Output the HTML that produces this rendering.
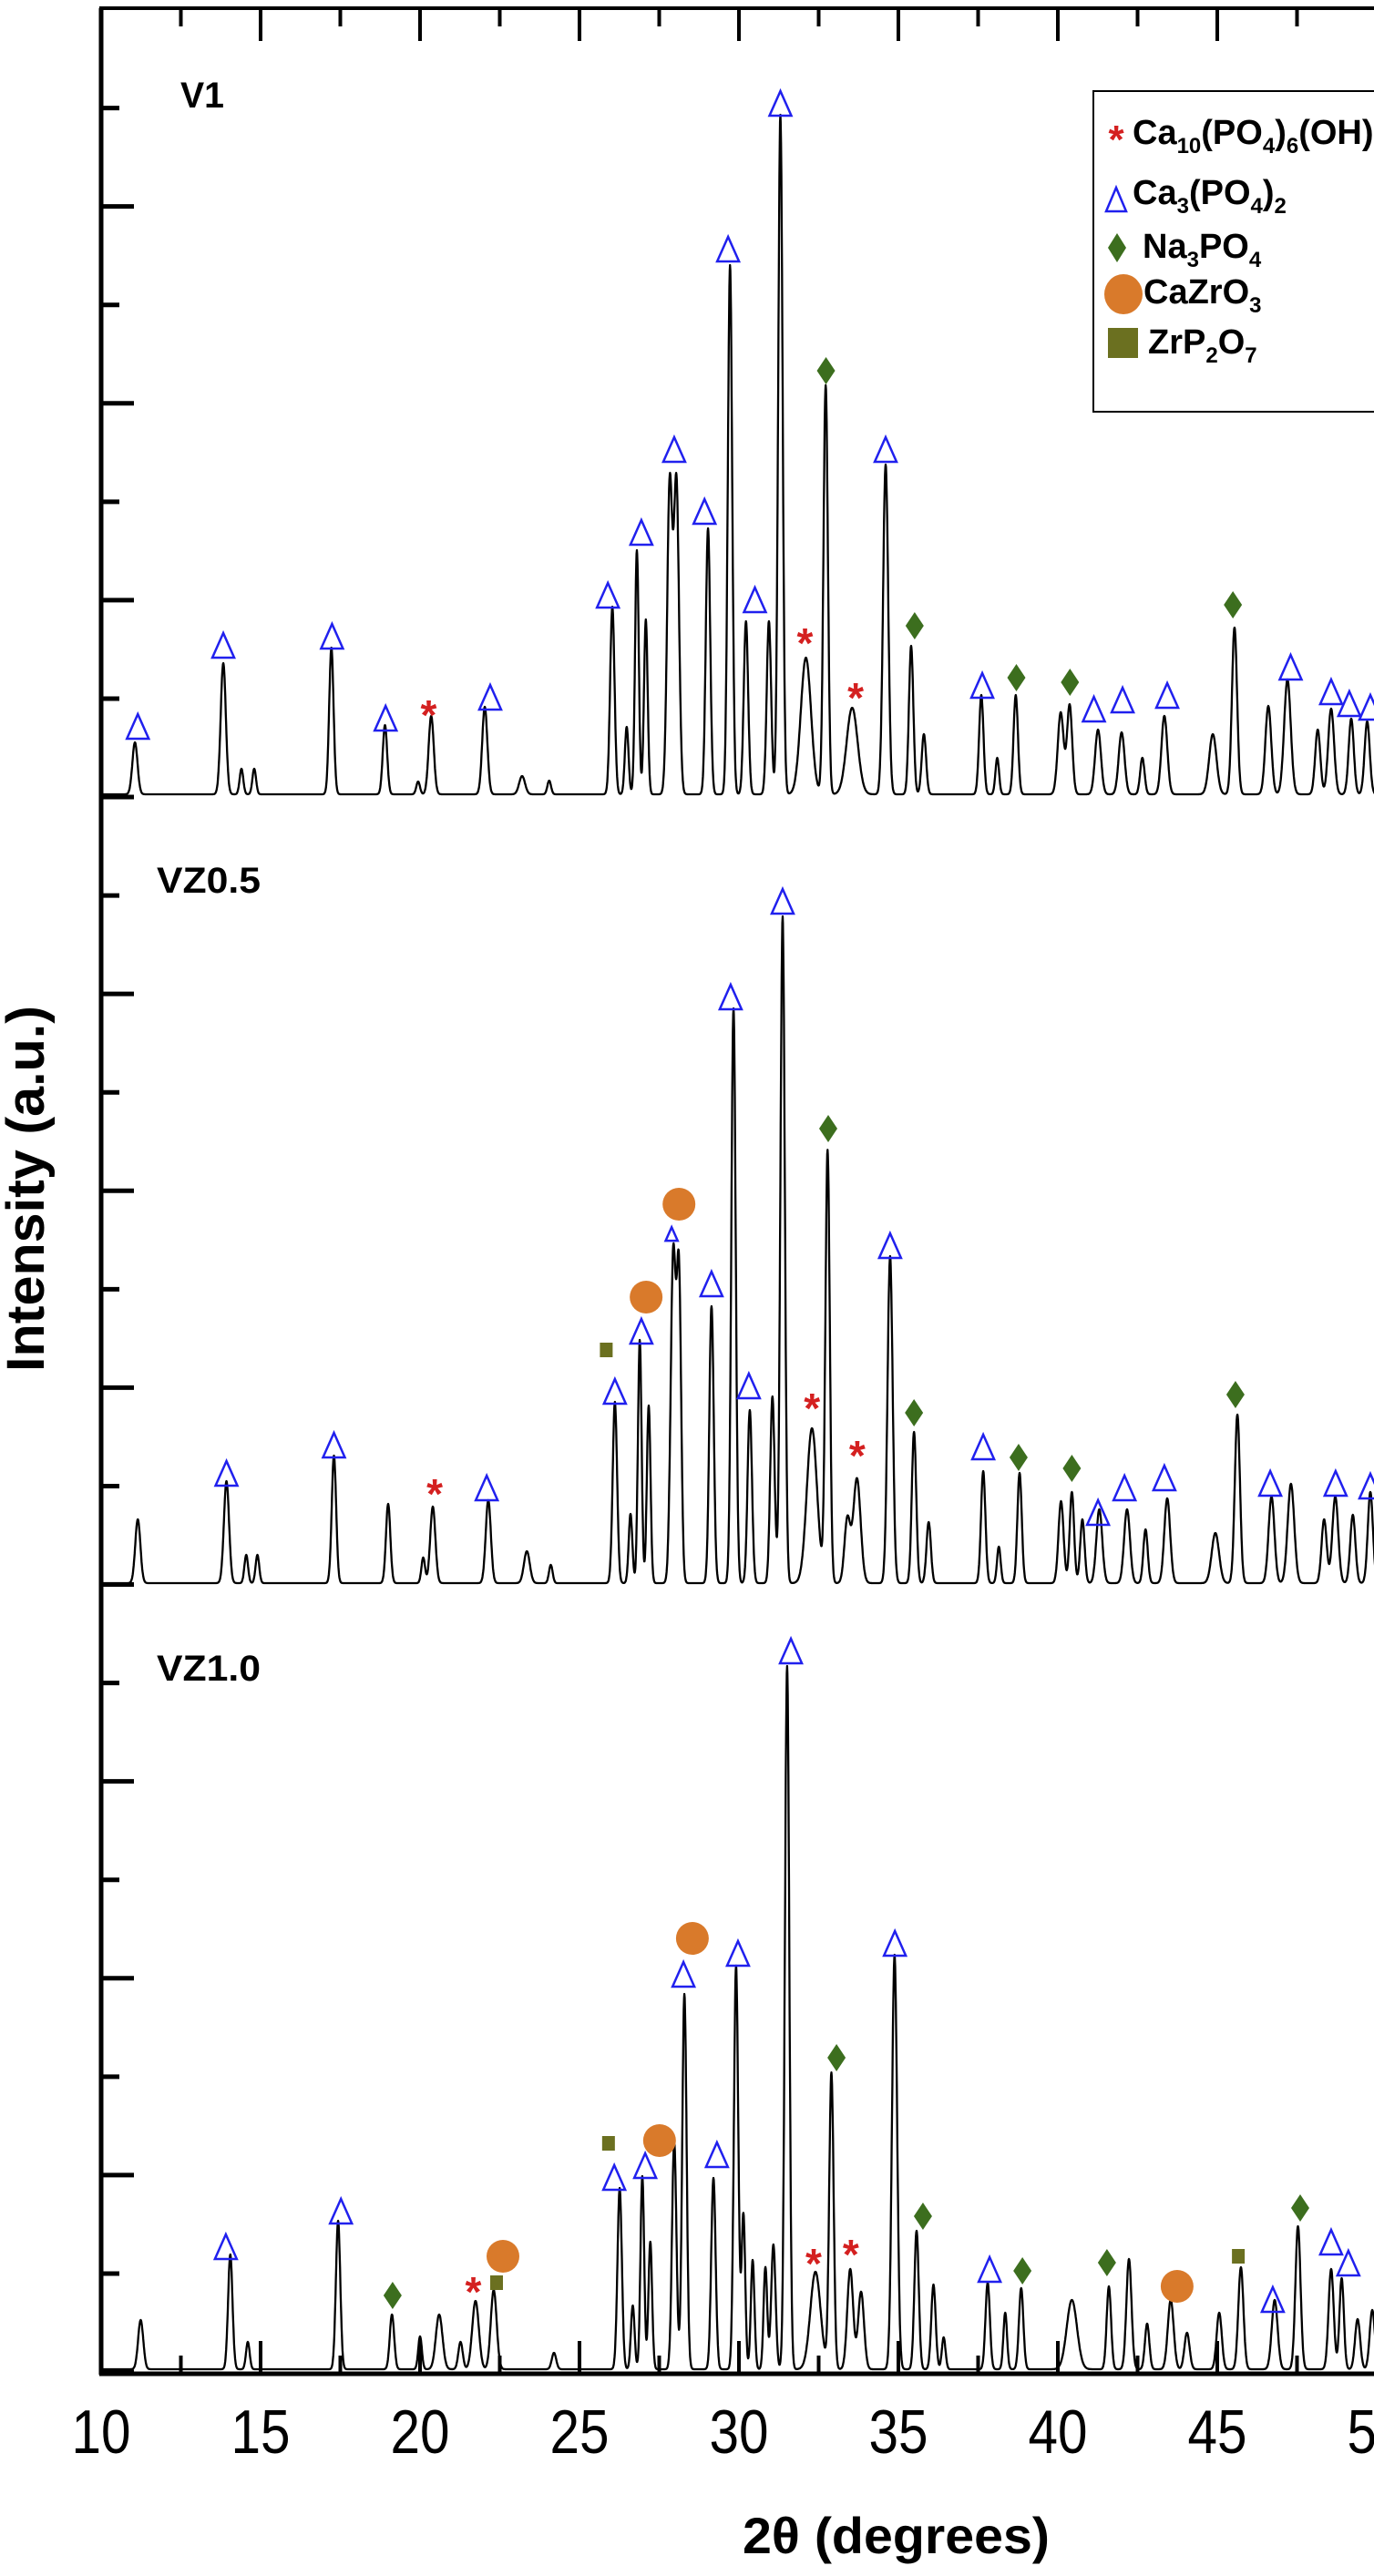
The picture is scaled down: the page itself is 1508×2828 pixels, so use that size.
<!DOCTYPE html>
<html><head><meta charset="utf-8"><style>
html,body{margin:0;padding:0;background:#fff;width:1508px;height:2828px;overflow:hidden}
svg{display:block}
text{font-family:"Liberation Sans",Arial,sans-serif}
</style></head>
<body>
<svg id="chart" width="1508" height="2828" viewBox="0 0 1508 2828" xmlns="http://www.w3.org/2000/svg">
<g id="axes"></g>
<g id="curves"></g>
<g id="markers"></g>
<text transform="translate(48,1305) rotate(-90)" text-anchor="middle" font-size="58" font-weight="bold" textLength="402" lengthAdjust="spacingAndGlyphs">Intensity (a.u.)</text>
<text x="815" y="2803" font-size="56" font-weight="bold" textLength="337" lengthAdjust="spacingAndGlyphs">2θ (degrees)</text>
<text x="198" y="118" font-size="40" font-weight="bold" textLength="48" lengthAdjust="spacingAndGlyphs">V1</text>
<text x="172" y="980" font-size="40" font-weight="bold" textLength="114" lengthAdjust="spacingAndGlyphs">VZ0.5</text>
<text x="172" y="1845" font-size="40" font-weight="bold" textLength="114" lengthAdjust="spacingAndGlyphs">VZ1.0</text>
<g>
  <rect x="1200" y="100" width="330" height="352" fill="#fff" stroke="#000" stroke-width="2"/>
  <g>
    <text x="1225" y="168" font-size="44" fill="#d42020" text-anchor="middle" font-weight="bold">*</text>
    <text x="1243" y="158" font-size="38" font-weight="bold">Ca<tspan font-size="24" dy="10">10</tspan><tspan dy="-10">(PO</tspan><tspan font-size="24" dy="10">4</tspan><tspan dy="-10">)</tspan><tspan font-size="24" dy="10">6</tspan><tspan dy="-10">(OH)</tspan><tspan font-size="24" dy="10">2</tspan></text>
  </g>
  <g>
    <polygon points="1225,206 1214,232 1236,232" fill="none" stroke="#2020ee" stroke-width="2.5"/>
    <text x="1243" y="224" font-size="38" font-weight="bold">Ca<tspan font-size="24" dy="10">3</tspan><tspan dy="-10">(PO</tspan><tspan font-size="24" dy="10">4</tspan><tspan dy="-10">)</tspan><tspan font-size="24" dy="10">2</tspan></text>
  </g>
  <g>
    <polygon points="1226,256 1236,272 1226,288 1216,272" fill="#3c6e1e"/>
    <text x="1254" y="283" font-size="38" font-weight="bold">Na<tspan font-size="24" dy="10">3</tspan><tspan dy="-10">PO</tspan><tspan font-size="24" dy="10">4</tspan></text>
  </g>
  <g>
    <ellipse cx="1233" cy="323" rx="21" ry="22" fill="#d97a2b"/>
    <text x="1255" y="333" font-size="38" font-weight="bold">CaZrO<tspan font-size="24" dy="10">3</tspan></text>
  </g>
  <g>
    <rect x="1216" y="360" width="33" height="33" fill="#6b7020"/>
    <text x="1260" y="388" font-size="38" font-weight="bold">ZrP<tspan font-size="24" dy="10">2</tspan><tspan dy="-10">O</tspan><tspan font-size="24" dy="10">7</tspan></text>
  </g>
</g>
</svg>
<script>
// ---- data ----
const xTicks = [10,15,20,25,30,35,40,45,50];
const sampleNames = ["V1","VZ0.5","VZ1.0"];
// Panel 1 (V1) peaks: position (deg), height (a.u.), width (deg)
const p1Pos = [11.06,13.83,14.4,14.8,17.22,18.9,19.94,20.35,22.03,23.2,24.05,26.03,26.48,26.8,27.08,27.83,28.04,29.03,29.72,30.22,30.94,31.3,32.1,32.72,33.55,34.6,35.4,35.8,37.6,38.1,38.68,40.09,40.37,41.26,42.0,42.65,43.34,44.86,45.54,46.6,47.2,48.15,48.57,49.2,49.7];
const p1Val = [57,144,28,28,161,76,14,86,96,20,15,206,74,268,192,340,340,292,581,190,190,746,150,449,95,362,163,66,109,40,109,90,98,71,68,40,86,66,183,97,126,71,94,83,80];
const p1Wid = [0.07,0.07,0.05,0.05,0.06,0.06,0.05,0.07,0.07,0.08,0.05,0.06,0.05,0.05,0.05,0.07,0.07,0.06,0.06,0.06,0.06,0.06,0.14,0.06,0.15,0.07,0.06,0.06,0.06,0.05,0.06,0.08,0.07,0.08,0.08,0.06,0.08,0.1,0.07,0.08,0.09,0.07,0.08,0.07,0.07];
// Panel 2 (VZ0.5)
const p2Pos = [11.15,13.93,14.55,14.9,17.3,19.0,20.1,20.4,22.14,23.35,24.1,26.11,26.6,26.89,27.17,27.94,28.12,29.14,29.83,30.34,31.05,31.37,32.29,32.78,33.4,33.7,34.74,35.49,35.95,37.66,38.15,38.8,40.1,40.44,40.77,41.3,42.17,42.75,43.43,44.94,45.63,46.7,47.31,48.35,48.7,49.25,49.8];
const p2Val = [70,112,31,31,140,87,28,84,91,35,20,199,76,267,195,360,330,304,631,190,205,732,170,474,70,115,359,166,67,123,40,121,90,100,70,81,81,59,93,55,185,95,109,70,95,75,100];
const p2Wid = [0.07,0.07,0.05,0.05,0.06,0.06,0.05,0.07,0.07,0.08,0.05,0.06,0.05,0.05,0.05,0.07,0.06,0.06,0.06,0.06,0.06,0.06,0.14,0.06,0.08,0.1,0.07,0.06,0.06,0.06,0.05,0.06,0.07,0.06,0.06,0.08,0.08,0.06,0.08,0.1,0.07,0.08,0.09,0.07,0.08,0.07,0.07];
// Panel 3 (VZ1.0)
const p3Pos = [11.24,14.05,14.6,17.43,19.12,20.0,20.6,21.27,21.74,22.31,24.2,26.26,26.67,26.97,27.22,27.97,28.29,29.2,29.91,30.14,30.43,30.83,31.08,31.51,32.4,32.9,33.49,33.83,34.88,35.57,36.1,36.42,37.8,38.35,38.85,40.44,41.6,42.23,42.8,43.54,44.05,45.06,45.74,46.8,47.53,48.57,48.9,49.4,49.86];
const p3Val = [54,126,30,163,60,36,60,30,75,87,18,199,70,212,140,250,412,210,443,170,120,112,137,772,107,325,110,85,455,152,93,35,95,62,89,76,91,121,50,76,40,62,112,76,157,110,100,55,65];
const p3Wid = [0.07,0.06,0.05,0.06,0.06,0.05,0.09,0.06,0.09,0.08,0.06,0.06,0.05,0.05,0.05,0.06,0.06,0.06,0.06,0.05,0.05,0.05,0.06,0.06,0.14,0.06,0.08,0.08,0.07,0.06,0.06,0.05,0.06,0.05,0.06,0.14,0.06,0.07,0.06,0.08,0.07,0.07,0.07,0.08,0.07,0.07,0.06,0.07,0.07];
// Phase markers: position (deg), height (a.u.), type (s=star,t=triangle,ts=small triangle,d=diamond,c=circle,q=square)
const m1Pos = [11.15,13.83,17.24,18.92,20.27,22.2,25.89,26.94,27.97,28.92,29.66,30.5,31.3,32.07,32.73,33.66,34.6,35.51,37.63,38.7,40.38,41.13,42.03,43.43,45.49,47.3,48.57,49.14,49.8];
const m1Val = [77,166,176,86,96,109,221,290,381,313,601,216,761,175,468,115,381,188,122,131,126,96,106,111,211,142,115,102,98];
const m1Type = ["t","t","t","t","s","t","t","t","t","t","t","t","t","s","d","s","t","d","t","d","d","t","t","t","d","t","t","t","t"];
const m2Pos = [13.93,17.3,20.46,22.09,25.84,26.11,26.94,27.09,27.89,28.12,29.14,29.74,30.31,31.37,32.29,32.8,33.71,34.74,35.49,37.66,38.77,40.44,41.26,42.09,43.34,45.57,46.66,48.71,49.8];
const m2Val = [123,154,107,107,259,213,279,317,386,419,331,646,219,751,201,502,149,373,190,152,141,129,80,107,118,210,112,112,109];
const m2Type = ["t","t","s","t","q","t","t","c","ts","c","t","t","t","t","s","d","s","t","d","t","d","d","t","t","t","d","t","t","t"];
const m3Pos = [13.91,17.52,19.14,21.67,22.4,22.6,25.91,26.09,27.06,27.51,28.26,28.54,29.31,29.97,31.63,32.34,33.06,33.51,34.89,35.77,37.86,38.89,41.54,43.74,45.66,46.74,47.6,48.57,49.11];
const m3Val = [137,176,84,94,98,127,251,213,226,254,436,476,238,459,791,125,345,135,470,171,112,111,120,94,127,79,180,142,119];
const m3Type = ["t","t","d","s","q","c","q","t","t","c","t","c","t","t","t","s","d","s","t","d","t","d","d","c","q","t","d","t","t"];

// ---- layout / axis functions ----
const X0 = 111, PX_PER_DEG = 35;
const baselines = [875, 1741, 2604];
const WIDTH_FACTOR = 1.15;
function xScale(d){ return X0 + (d - 10) * PX_PER_DEG; }
function yScale(panel, v){ return baselines[panel] - v; }
const NS = "http://www.w3.org/2000/svg";
function mk(tag, attrs, parent){ const e = document.createElementNS(NS, tag); for (const k in attrs) e.setAttribute(k, attrs[k]); parent.appendChild(e); return e; }

const axes = document.getElementById('axes');
let el = mk('line',{x1:X0,y1:9,x2:X0,y2:2607,stroke:'#000','stroke-width':5},axes);


el = mk('line',{x1:X0-2,y1:2606,x2:1508,y2:2606,stroke:'#000','stroke-width':5},axes);


el = mk('line',{x1:X0-2,y1:9,x2:1508,y2:9,stroke:'#000','stroke-width':4},axes);


for (let d = 12.5; d <= 50; d += 2.5){
  const major = Math.abs(d % 5) < 1e-6;
  const len = major ? 36 : 20;
  const x = xScale(d);
  el = mk('line',{x1:x,y1:2606,x2:x,y2:2606-len,stroke:'#000','stroke-width':4},axes);
  
  
  el = mk('line',{x1:x,y1:9,x2:x,y2:9+len,stroke:'#000','stroke-width':4},axes);
  
  
}
xTicks.forEach(d => {
  const t = mk('text',{x:xScale(d),y:2693,'font-size':68,'text-anchor':'middle',textLength:65,lengthAdjust:'spacingAndGlyphs'},axes);
  t.textContent = d;
  
  
});
const yStep = (baselines[2] - baselines[0]) / 16;
for (let k = 0; k <= 23; k++){
  const y = baselines[2] - k * yStep;
  const len = k % 2 === 0 ? 36 : 20;
  el = mk('line',{x1:X0,y1:y,x2:X0+len,y2:y,stroke:'#000','stroke-width':5},axes);
  
  
}

const curves = document.getElementById('curves');
const peaks = [[p1Pos,p1Val,p1Wid],[p2Pos,p2Val,p2Wid],[p3Pos,p3Val,p3Wid]];
peaks.forEach((pk, pi) => {
  const [pos, val, wid] = pk;
  let d = '';
  for (let i = 0; i <= 4020; i++){
    const t = 10 + i * 0.01;
    let v = 3;
    for (let j = 0; j < pos.length; j++){
      const z = (t - pos[j]) / (wid[j] * WIDTH_FACTOR);
      if (Math.abs(z) < 6) v += val[j] * Math.exp(-0.5 * z * z);
    }
    d += (i ? 'L' : 'M') + xScale(t).toFixed(1) + ' ' + yScale(pi, v).toFixed(1);
  }
  const p = mk('path',{d:d,fill:'none',stroke:'#000','stroke-width':2.3,'stroke-linejoin':'round'},curves);
  
  
});

const markersG = document.getElementById('markers');
const markerSets = [[m1Pos,m1Val,m1Type],[m2Pos,m2Val,m2Type],[m3Pos,m3Val,m3Type]];
markerSets.forEach((ms, pi) => {
  const [pos, val, type] = ms;
  pos.forEach((d, i) => {
    const x = xScale(d), y = yScale(pi, val[i]);
    let e;
    const tp = type[i];
    if (tp === 't' || tp === 'ts'){
      const s = tp === 'ts' ? 0.55 : 1;
      e = mk('polygon',{points:`${x},${y-14*s} ${x-12*s},${y+13*s} ${x+12*s},${y+13*s}`,fill:'none',stroke:'#2020ee','stroke-width':2.5},markersG);
      
      
    } else if (tp === 's'){
      e = mk('text',{x:x,y:y+22,'font-size':46,'text-anchor':'middle',fill:'#d42020','font-weight':'bold'},markersG);
      e.textContent = '*';
      
      
    } else if (tp === 'd'){
      e = mk('polygon',{points:`${x},${y-15} ${x+10},${y} ${x},${y+15} ${x-10},${y}`,fill:'#3c6e1e'},markersG);
      
      
    } else if (tp === 'c'){
      e = mk('ellipse',{cx:x,cy:y,rx:18,ry:18,fill:'#d97a2b'},markersG);
      
      
    } else if (tp === 'q'){
      e = mk('rect',{x:x-7,y:y-8,width:14,height:16,fill:'#6b7020'},markersG);
      
      
    }
  });
});
</script>
</body></html>
